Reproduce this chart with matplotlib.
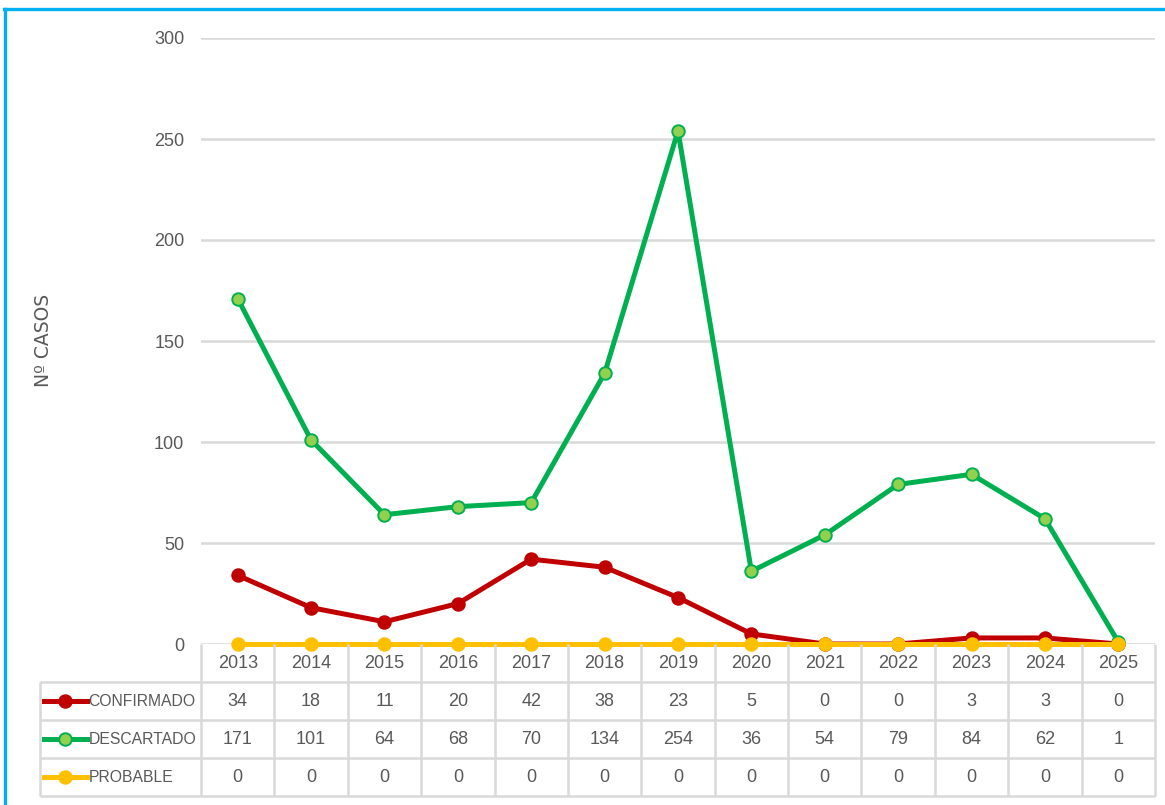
import numpy as np
import matplotlib
matplotlib.use('Agg')
import matplotlib.pyplot as plt
from matplotlib.lines import Line2D

years = ['2013', '2014', '2015', '2016', '2017', '2018', '2019',
         '2020', '2021', '2022', '2023', '2024', '2025']
confirmado = [34, 18, 11, 20, 42, 38, 23, 5, 0, 0, 3, 3, 0]
descartado = [171, 101, 64, 68, 70, 134, 254, 36, 54, 79, 84, 62, 1]
probable = [0, 0, 0, 0, 0, 0, 0, 0, 0, 0, 0, 0, 0]
series_names = ['CONFIRMADO', 'DESCARTADO', 'PROBABLE']
y_ticks = [0, 50, 100, 150, 200, 250, 300]

W, H = 1165, 805
TXT = '#595959'
GRID = '#D9D9D9'
num_font = ['Liberation Sans', 'DejaVu Sans']
FS = 13

styles = [
    dict(color='#C00000', mfc='#C00000', mec='#C00000'),
    dict(color='#00B050', mfc='#92D050', mec='#00B050'),
    dict(color='#FFC000', mfc='#FFC000', mec='#FFC000'),
]
series = [confirmado, descartado, probable]

fig = plt.figure(figsize=(W / 100, H / 100), dpi=100)
fig.patch.set_facecolor('white')

def px_axes(l, t, r, b):
    return fig.add_axes([l / W, 1 - b / H, (r - l) / W, (b - t) / H])

# main plot
ax = px_axes(201, 38, 1155, 644)
x = np.arange(len(years))
ax.set_xlim(-0.5, len(years) - 0.5)
ax.set_ylim(0, 300)
ax.set_yticks(y_ticks)
ax.set_yticklabels([str(v) for v in y_ticks], family=num_font, fontsize=FS, color=TXT)
ax.set_xticks([])
ax.tick_params(axis='y', length=0, pad=12)
for s in ax.spines.values():
    s.set_visible(False)
ax.grid(axis='y', color=GRID, lw=1.8)
ax.set_axisbelow(True)
for vals, st in zip(series, styles):
    ax.plot(x, vals, lw=3.6, marker='o', ms=9, mew=1.4, clip_on=False,
            solid_capstyle='round', zorder=3, **st)
ax.set_ylabel('Nº CASOS', fontsize=13.5, color=TXT, family='DejaVu Sans')
ax.yaxis.set_label_coords((53 - 201) / 954, (644 - 340) / 606)

# data table under the plot
col_w = (1155 - 201) / len(years)
tax = px_axes(40, 644, 1155, 796)
left = -0.5 - (201 - 40) / col_w
tax.set_xlim(left, len(years) - 0.5)
tax.set_ylim(4, 0)
tax.axis('off')
lk = dict(color=GRID, lw=1.8, solid_capstyle='butt', clip_on=False)
for i in range(len(years) + 1):
    tax.plot([i - 0.5, i - 0.5], [0, 4], **lk)
tax.plot([left, left], [1, 4], **lk)
for r in range(1, 5):
    tax.plot([left, len(years) - 0.5], [r, r], **lk)

for i, yr in enumerate(years):
    tax.text(i, 0.5, yr, ha='center', va='center', family=num_font, fontsize=FS, color=TXT)
k0 = -0.5 - (201 - 44) / col_w
k1 = -0.5 - (201 - 87) / col_w
for r, (name, vals, st) in enumerate(zip(series_names, series, styles), start=1):
    for i, v in enumerate(vals):
        tax.text(i, r + 0.5, str(v), ha='center', va='center', family=num_font,
                 fontsize=FS, color=TXT)
    tax.plot([k0, k1], [r + 0.5, r + 0.5], lw=3.6, color=st['color'], clip_on=False)
    tax.plot([(k0 + k1) / 2], [r + 0.5], marker='o', ms=9, mew=1.4, ls='none',
             mfc=st['mfc'], mec=st['mec'], clip_on=False)
    tax.text(k1 + 0.02, r + 0.5, name, ha='left', va='center', family=num_font,
             fontsize=11.3, color=TXT)

# blue frame on left and top
fig.add_artist(Line2D([4.5 / W, 4.5 / W], [0, 1 - 9 / H], color='#00B0F0', lw=2.4))
fig.add_artist(Line2D([3.5 / W, 1], [1 - 9 / H, 1 - 9 / H], color='#00B0F0', lw=2.4))

fig.savefig('out.png', dpi=100)
